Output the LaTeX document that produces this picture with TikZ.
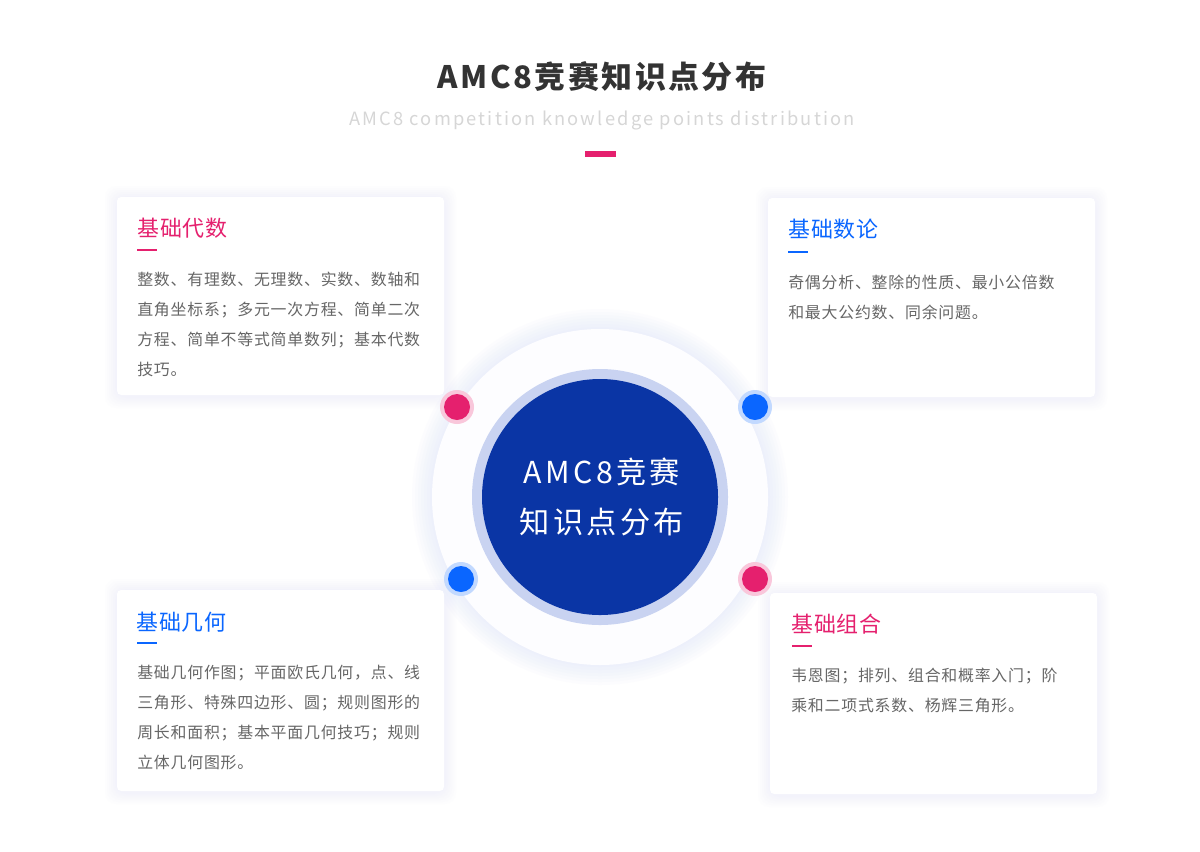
\documentclass[tikz,border=0pt]{standalone}
\usepackage{fontspec}
\usepackage{xcolor}
\usepackage{tikz}
\setmainfont{Noto Sans CJK SC}
\newfontfamily\titlefont[LetterSpace=8]{Noto Sans CJK SC}
\newfontfamily\subfont[LetterSpace=12]{Noto Sans CJK SC}
\newfontfamily\headfont[LetterSpace=4]{Noto Sans CJK SC}
\newfontfamily\bodyfont[LetterSpace=5]{Noto Sans CJK SC}
\newfontfamily\corefont[LetterSpace=11]{Noto Sans CJK SC}
\definecolor{ink}      {HTML}{333333}
\definecolor{ink2}     {HTML}{666666}
\definecolor{faint}    {HTML}{D6D6D6}
\definecolor{rose}     {HTML}{E5206E}
\definecolor{azure}    {HTML}{0A66FF}
\definecolor{navy}     {HTML}{0A35A5}
\definecolor{ringc}    {HTML}{C9D3F1}
\definecolor{glowc}    {HTML}{D8E0FB}
\definecolor{discbg}   {HTML}{FDFDFF}
\tikzset{
  card/.style  = {rounded corners=3pt, fill=white},
  glow/.style  = {rounded corners=8pt, fill=glowc, opacity=0.05},
  head/.style  = {anchor=base west, inner sep=0,
                  font=\headfont\fontsize{15.6pt}{18pt}\selectfont},
  body/.style  = {anchor=north west, inner sep=0, align=left, text=ink2,
                  font=\bodyfont\fontsize{11.3pt}{21.3pt}\selectfont},
  bar/.style   = {line width=1.4pt},
}

\begin{document}
\begin{tikzpicture}[x=0.025cm, y=-0.025cm]
  \useasboundingbox (0,0) rectangle (1200,851);
  \fill[white] (0,0) rectangle (1200,851);

  % heading
  \node[inner sep=0, anchor=base, text=ink,
        font=\titlefont\bfseries\fontsize{22pt}{26pt}\selectfont] (title) at (602,88) {AMC8竞赛知识点分布};
  \node[inner sep=0, anchor=base, text=faint,
        font=\subfont\fontsize{13pt}{16pt}\selectfont] (subtitle) at (602,125) {AMC8 competition knowledge points distribution};
  \fill[rose] (585,151) rectangle (616,157);

  % centre disc
  \foreach \r in {188,185,...,170}
    \fill[glowc, opacity=0.07] (600,497) circle (\r);
  \fill[discbg] (600,497) circle (168);
  \fill[ringc] (600,497) circle (128);
  \fill[navy] (600,497) circle (118);
  \node[inner sep=0, anchor=north, align=center, text=white,
        font=\corefont\fontsize{21.5pt}{35.6pt}\selectfont] (core) at (602,458) {AMC8竞赛\\知识点分布};

  % cards
  \foreach \xa/\ya/\xb/\yb in {117/197/444/395, 768/198/1095/397, 117/590/444/791, 770/593/1097/794}{
    \foreach \s in {12,10,...,2}
      \fill[glow] (\xa-\s,\ya-\s+1) rectangle (\xb+\s,\yb+\s+1);
    \fill[card] (\xa,\ya) rectangle (\xb,\yb);
  }

  % algebra
  \node[head, text=rose] (alg) at (137,236) {基础代数};
  \draw[bar, rose] (137,250) -- (157,250);
  \node[body] (algtxt) at (137,272) {整数、有理数、无理数、实数、数轴和\\直角坐标系；多元一次方程、简单二次\\方程、简单不等式简单数列；基本代数\\技巧。};

  % number theory
  \node[head, text=azure] (num) at (788,237) {基础数论};
  \draw[bar, azure] (788,252) -- (808,252);
  \node[body] (numtxt) at (788,275) {奇偶分析、整除的性质、最小公倍数\\和最大公约数、同余问题。};

  % geometry
  \node[head, text=azure] (geo) at (136,630) {基础几何};
  \draw[bar, azure] (137,643) -- (157,643);
  \node[body] (geotxt) at (137,665) {基础几何作图；平面欧氏几何，点、线\\三角形、特殊四边形、圆；规则图形的\\周长和面积；基本平面几何技巧；规则\\立体几何图形。};

  % combinatorics
  \node[head, text=rose] (comb) at (791,632) {基础组合};
  \draw[bar, rose] (792,646) -- (812,646);
  \node[body] (combtxt) at (791,668) {韦恩图；排列、组合和概率入门；阶\\乘和二项式系数、杨辉三角形。};

  % dots
  \foreach \px/\py/\c in {457/407/rose, 755/407/azure, 461/579/azure, 755/579/rose}{
    \fill[\c!25] (\px,\py) circle (17);
    \fill[\c] (\px,\py) circle (13);
  }
\end{tikzpicture}
\end{document}
